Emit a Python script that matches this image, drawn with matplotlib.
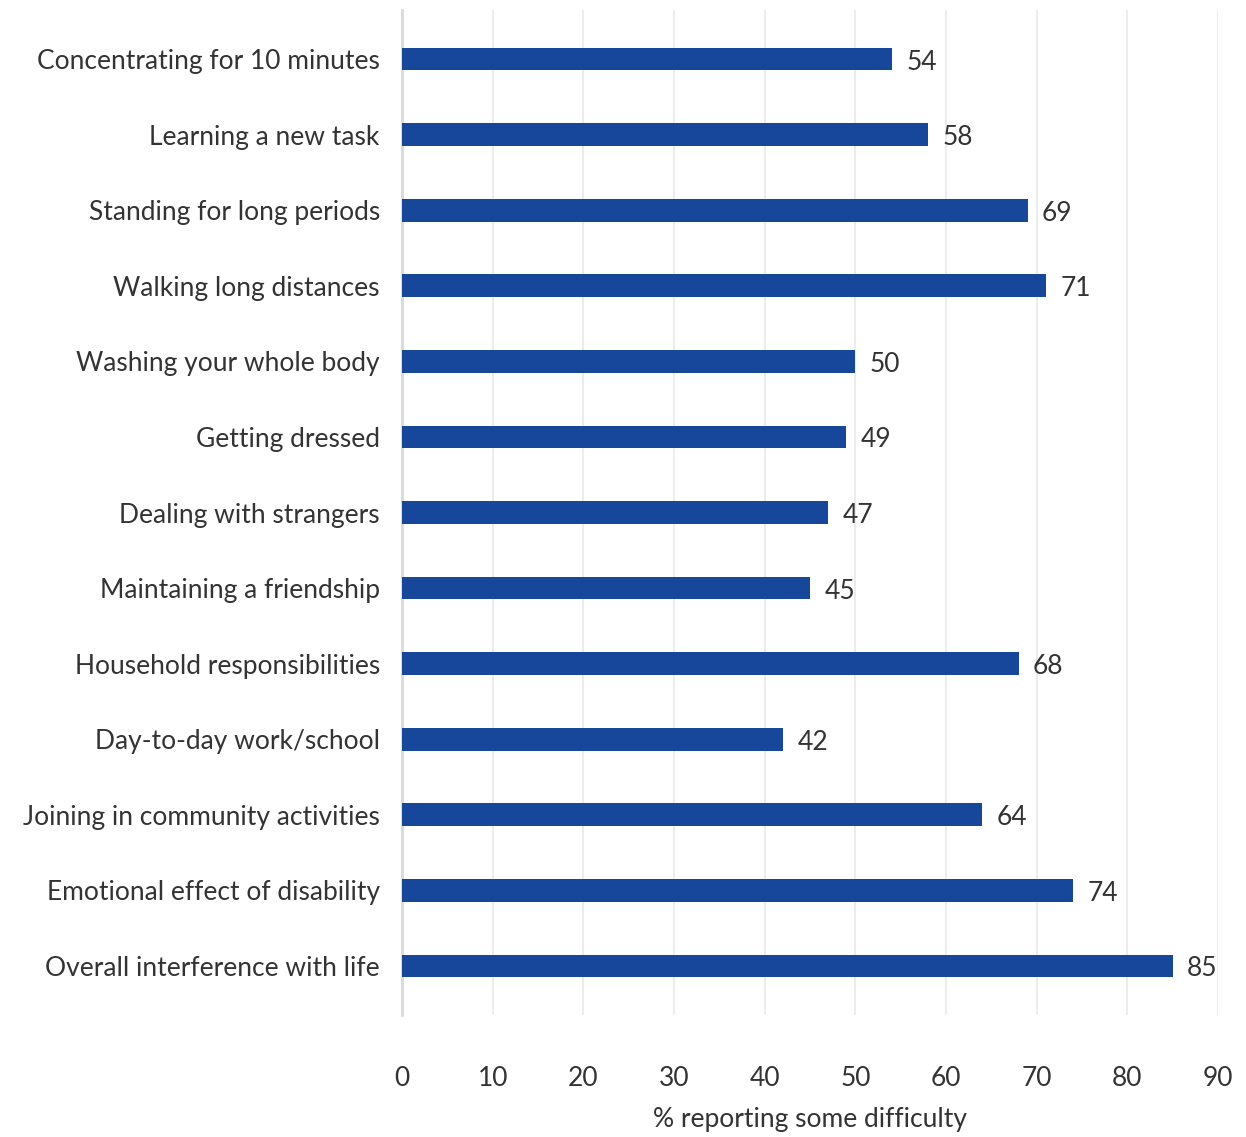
import matplotlib.pyplot as plt

# share of respondents reporting some difficulty, by activity
activities = [
    "Concentrating for 10 minutes",
    "Learning a new task",
    "Standing for long periods",
    "Walking long distances",
    "Washing your whole body",
    "Getting dressed",
    "Dealing with strangers",
    "Maintaining a friendship",
    "Household responsibilities",
    "Day-to-day work/school",
    "Joining in community activities",
    "Emotional effect of disability",
    "Overall interference with life",
]
pct = [54, 58, 69, 71, 50, 49, 47, 45, 68, 42, 64, 74, 85]
xticks = [0, 10, 20, 30, 40, 50, 60, 70, 80, 90]

plt.rcParams['font.family'] = ['Lato', 'DejaVu Sans']
txt = '#333333'
blue = '#17479b'
fs = 19

fig = plt.figure(figsize=(12.46, 11.37), dpi=100)
ax = fig.add_axes([402 / 1246, 1 - 1015 / 1137, 816 / 1246, 1005 / 1137])

pos = list(range(len(activities)))
ax.barh(pos, pct, height=0.3, color=blue, zorder=3)
for y, v in zip(pos, pct):
    ax.text(v + 1.6, y + 0.04, str(v), va='center', ha='left', fontsize=fs, color=txt)

ax.set_xlim(0, 90)
ax.set_ylim(len(activities) - 0.35, -0.65)
ax.set_yticks(pos)
ax.set_yticklabels(activities, fontsize=fs, color=txt)
ax.set_xticks(xticks)
ax.set_xticklabels([str(t) for t in xticks], fontsize=fs, color=txt)
ax.tick_params(axis='both', length=0)
ax.tick_params(axis='x', pad=37)
ax.tick_params(axis='y', pad=16)
ax.set_xlabel('% reporting some difficulty', fontsize=fs, color=txt, labelpad=11)

ax.grid(axis='x', color='#ebebeb', linewidth=1.3, zorder=0)
for s in ['top', 'right', 'bottom']:
    ax.spines[s].set_visible(False)
ax.spines['left'].set_color('#d9d9d9')
ax.spines['left'].set_linewidth(2)

fig.savefig('out.png', dpi=100)
